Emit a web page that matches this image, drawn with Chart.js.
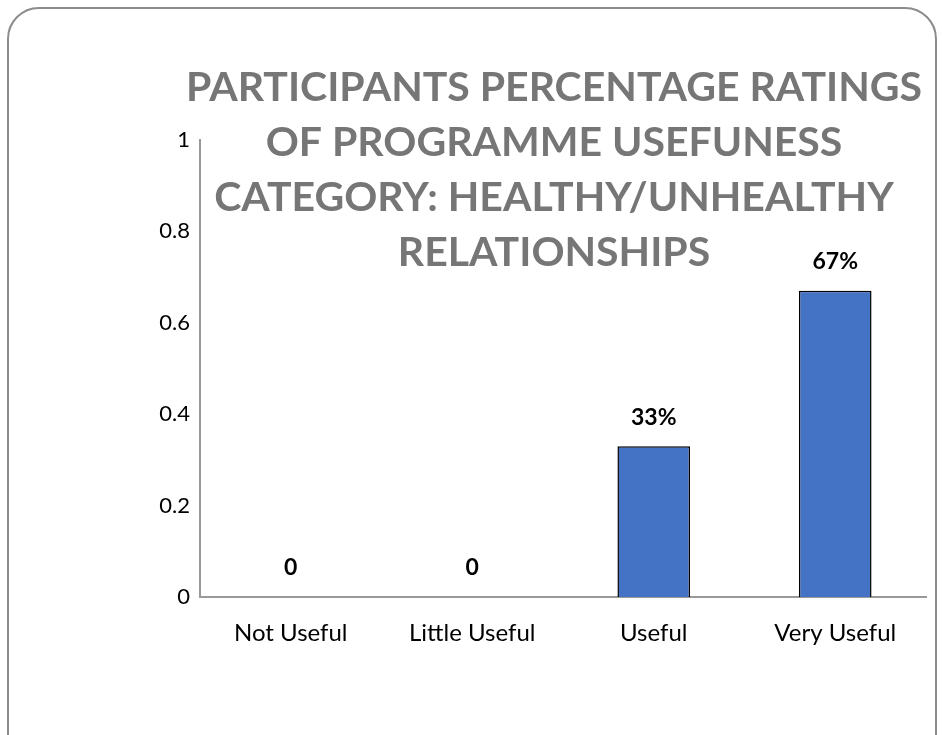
<!DOCTYPE html>
<html>
<head>
<meta charset="utf-8">
<script src="https://cdn.jsdelivr.net/npm/chart.js@4"></script>
<style>
  html, body { margin: 0; padding: 0; background: #fff; }
  #wrap { position: relative; width: 942px; height: 735px; overflow: hidden; }
  #frame {
    position: absolute; left: 7px; top: 7px; width: 930px; height: 760px;
    border: 2px solid #8c8c8c; border-radius: 32px; box-sizing: border-box;
  }
  #chart { position: absolute; left: 0; top: 0; }
</style>
</head>
<body>
<div id="wrap">
  <div id="frame"></div>
  <canvas id="chart" width="942" height="735"></canvas>
</div>
<script>
// chart data
const categories = ['Not Useful', 'Little Useful', 'Useful', 'Very Useful'];
const ratings = [0, 0, 0.33, 0.67];
const titleLines = [
  'PARTICIPANTS PERCENTAGE RATINGS',
  'OF PROGRAMME USEFUNESS',
  'CATEGORY: HEALTHY/UNHEALTHY',
  'RELATIONSHIPS'
];

const FONT = 'Lato, "Open Sans", sans-serif';

// draws the overlapping title and the value labels above bars
const overlayPlugin = {
  id: 'overlay',
  afterDatasetsDraw(chart) {
    const ctx = chart.ctx;
    ctx.save();
    // value labels
    ctx.font = 'bold 23px ' + FONT;
    ctx.fillStyle = '#000';
    ctx.textAlign = 'center';
    ctx.textBaseline = 'middle';
    chart.getDatasetMeta(0).data.forEach((bar, i) => {
      const v = ratings[i];
      const txt = v === 0 ? '0' : Math.round(v * 100) + '%';
      ctx.fillText(txt, bar.x, bar.y - 29);
    });
    // title
    ctx.font = 'bold 41px ' + FONT;
    ctx.fillStyle = '#767676';
    titleLines.forEach((line, i) => {
      ctx.fillText(line, 554, 88 + i * 55);
    });
    ctx.restore();
  }
};

function createChart() {
  const ctx = document.getElementById('chart').getContext('2d');
  return new Chart(ctx, {
    type: 'bar',
    data: {
      labels: categories,
      datasets: [{
        data: ratings,
        backgroundColor: '#4472C4',
        borderColor: '#000',
        borderWidth: 1.5,
        barPercentage: 0.4,
        categoryPercentage: 1
      }]
    },
    options: {
      responsive: false,
      animation: false,
      layout: { padding: { top: 140, right: 16, left: 0, bottom: 0 } },
      plugins: {
        legend: { display: false },
        tooltip: { enabled: false }
      },
      scales: {
        x: {
          grid: { display: false, drawTicks: false },
          border: { display: true, color: '#999', width: 2 },
          ticks: { color: '#000', font: { family: FONT, size: 24 }, padding: 22 },
          afterFit(scale) { scale.height = 138; }
        },
        y: {
          min: 0,
          max: 1,
          grid: { display: false, drawTicks: false },
          border: { display: true, color: '#999', width: 2 },
          ticks: {
            stepSize: 0.2,
            color: '#000',
            font: { family: FONT, size: 22 },
            padding: 10,
            callback: v => String(Math.round(v * 10) / 10)
          },
          afterFit(scale) { scale.width = 200; }
        }
      }
    },
    plugins: [overlayPlugin]
  });
}

document.addEventListener('DOMContentLoaded', createChart);
</script>
</body>
</html>
